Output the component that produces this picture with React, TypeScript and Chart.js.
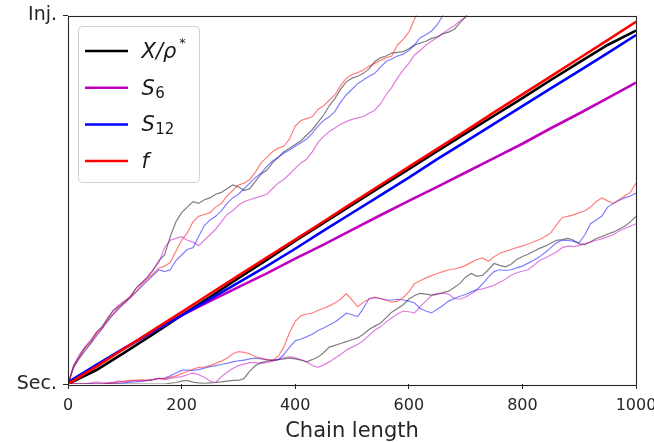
import React, { useEffect, useRef } from "react";
import { Chart, registerables } from "chart.js";

Chart.register(...registerables);

const FONT = '"DejaVu Sans", sans-serif';

const xTicks = [0, 200, 400, 600, 800, 1000];
const yTickValues = [0, 1];
const yTickLabels = ["Sec.", "Inj."];
const xTitle = "Chain length";

const legendBase = ["X/ρ", "S", "S", "f"];
const legendSub = ["", "6", "12", ""];
const legendSup = ["*", "", "", ""];

// chain-length positions (fine grid for single runs, coarse grid for averages)
const fineStep = Array.from({ length: 101 }, (_, i) => i * 10);
const coarseStep = Array.from({ length: 21 }, (_, i) => i * 50);

// averaged curves (thick)
const meanX = [0, 0.038, 0.086, 0.135, 0.186, 0.236, 0.287, 0.337, 0.388, 0.437, 0.486, 0.535, 0.583, 0.632, 0.68, 0.728, 0.776, 0.825, 0.873, 0.92, 0.959];
const meanS6 = [0.004, 0.05, 0.097, 0.143, 0.186, 0.225, 0.263, 0.3, 0.34, 0.378, 0.418, 0.458, 0.497, 0.535, 0.574, 0.613, 0.652, 0.694, 0.734, 0.776, 0.818];
const meanS12 = [0.005, 0.052, 0.098, 0.143, 0.186, 0.23, 0.275, 0.32, 0.367, 0.416, 0.464, 0.512, 0.56, 0.61, 0.658, 0.706, 0.754, 0.802, 0.85, 0.898, 0.947];
const meanF = [0, 0.047, 0.097, 0.146, 0.195, 0.245, 0.294, 0.343, 0.392, 0.441, 0.491, 0.54, 0.589, 0.638, 0.687, 0.737, 0.786, 0.835, 0.884, 0.933, 0.983];

// single run heading towards "Inj." (thin)
const upX = [0, 0.05, 0.075, 0.10, 0.115, 0.14, 0.155, 0.18, 0.20, 0.21,
  0.225, 0.235, 0.26, 0.275, 0.29, 0.31, 0.335, 0.35, 0.40, 0.44,
  0.465, 0.48, 0.495, 0.49, 0.50, 0.505, 0.515, 0.52, 0.53, 0.54,
  0.535, 0.525, 0.53, 0.55, 0.57, 0.58, 0.60, 0.615, 0.63, 0.64,
  0.65, 0.66, 0.675, 0.69, 0.71, 0.73, 0.755, 0.775, 0.80, 0.82,
  0.83, 0.835, 0.843, 0.855, 0.875, 0.885, 0.89, 0.898, 0.90, 0.902,
  0.91, 0.92, 0.925, 0.93, 0.938, 0.942, 0.95, 0.955, 0.962, 0.98,
  0.997, 1.02];
const upF = [0, 0.045, 0.07, 0.095, 0.11, 0.135, 0.15, 0.175, 0.19, 0.21,
  0.22, 0.235, 0.25, 0.27, 0.285, 0.30, 0.315, 0.32, 0.33, 0.36,
  0.39, 0.41, 0.44, 0.455, 0.46, 0.465, 0.48, 0.49, 0.51, 0.525,
  0.54, 0.545, 0.555, 0.575, 0.60, 0.615, 0.63, 0.64, 0.645, 0.665,
  0.70, 0.715, 0.72, 0.725, 0.745, 0.755, 0.77, 0.785, 0.81, 0.83,
  0.84, 0.845, 0.852, 0.862, 0.87, 0.878, 0.885, 0.89, 0.92, 0.935,
  0.955, 0.99, 1.02];
const upS12 = [0, 0.045, 0.07, 0.09, 0.11, 0.13, 0.15, 0.17, 0.19, 0.205,
  0.22, 0.235, 0.25, 0.265, 0.28, 0.295, 0.31, 0.305, 0.31, 0.335,
  0.35, 0.365, 0.37, 0.40, 0.43, 0.445, 0.455, 0.47, 0.49, 0.505,
  0.515, 0.53, 0.545, 0.56, 0.572, 0.59, 0.605, 0.615, 0.626, 0.635,
  0.645, 0.655, 0.665, 0.68, 0.70, 0.715, 0.725, 0.74, 0.765, 0.785,
  0.80, 0.815, 0.825, 0.835, 0.843, 0.86, 0.875, 0.882, 0.89, 0.895,
  0.905, 0.92, 0.94, 0.948, 0.958, 0.975, 1.0, 1.02];
const upS6 = [0, 0.05, 0.08, 0.10, 0.12, 0.14, 0.155, 0.175, 0.20, 0.215,
  0.225, 0.24, 0.26, 0.275, 0.29, 0.31, 0.33, 0.37, 0.39, 0.395,
  0.40, 0.39, 0.385, 0.375, 0.39, 0.405, 0.42, 0.44, 0.46, 0.47,
  0.485, 0.495, 0.50, 0.505, 0.51, 0.515, 0.53, 0.545, 0.555, 0.57,
  0.585, 0.60, 0.61, 0.63, 0.655, 0.672, 0.685, 0.695, 0.705, 0.712,
  0.718, 0.722, 0.726, 0.735, 0.743, 0.76, 0.785, 0.805, 0.83, 0.852,
  0.87, 0.893, 0.905, 0.92, 0.93, 0.94, 0.952, 0.962, 0.972, 0.985,
  0.995, 1.02];

// single run staying near "Sec." (thin)
const lowX = [0, 0, 0, 0, 0, 0, 0, 0, 0, 0,
  0, 0, 0, 0, 0, 0, 0, 0, 0.002, 0.004,
  0.008, 0.01, 0.005, 0.003, 0.002, 0.003, 0.004, 0.006, 0.008, 0.01,
  0.01, 0.015, 0.035, 0.05, 0.058, 0.062, 0.064, 0.066, 0.068, 0.07,
  0.068, 0.065, 0.06, 0.066, 0.073, 0.085, 0.1, 0.105, 0.11, 0.115,
  0.12, 0.125, 0.135, 0.148, 0.157, 0.165, 0.18, 0.195, 0.205, 0.215,
  0.23, 0.24, 0.246, 0.244, 0.241, 0.243, 0.248, 0.252, 0.262, 0.273,
  0.29, 0.30, 0.292, 0.295, 0.31, 0.327, 0.322, 0.318, 0.325, 0.338,
  0.346, 0.352, 0.36, 0.368, 0.374, 0.382, 0.39, 0.392, 0.395, 0.39,
  0.38, 0.378, 0.386, 0.395, 0.40, 0.407, 0.412, 0.42, 0.428, 0.44, 0.455];
const lowF = [0, 0, 0, 0, 0, 0, 0, 0.002, 0.003, 0.005,
  0.008, 0.01, 0.01, 0.012, 0.01, 0.012, 0.015, 0.014, 0.018, 0.022,
  0.028, 0.034, 0.04, 0.045, 0.046, 0.05, 0.056, 0.062, 0.07, 0.082,
  0.088, 0.086, 0.082, 0.074, 0.07, 0.066, 0.064, 0.075, 0.10, 0.14,
  0.17, 0.185, 0.19, 0.192, 0.20, 0.205, 0.212, 0.22, 0.23, 0.245,
  0.228, 0.21, 0.222, 0.23, 0.236, 0.232, 0.228, 0.222, 0.225, 0.234,
  0.25, 0.272, 0.28, 0.288, 0.294, 0.30, 0.305, 0.31, 0.312, 0.316,
  0.322, 0.33, 0.338, 0.342, 0.333, 0.345, 0.355, 0.36, 0.365, 0.37,
  0.375, 0.38, 0.386, 0.392, 0.40, 0.41, 0.432, 0.452, 0.455, 0.459,
  0.465, 0.47, 0.48, 0.495, 0.505, 0.497, 0.49, 0.50, 0.51, 0.52, 0.545];
const lowS12 = [0, 0, 0, 0, 0, 0, 0, 0.001, 0.002, 0.002,
  0.003, 0.005, 0.006, 0.008, 0.01, 0.012, 0.015, 0.016, 0.022, 0.03,
  0.037, 0.038, 0.037, 0.039, 0.043, 0.047, 0.05, 0.053, 0.056, 0.06,
  0.063, 0.065, 0.068, 0.07, 0.068, 0.066, 0.065, 0.066, 0.08, 0.10,
  0.117, 0.122, 0.128, 0.135, 0.145, 0.152, 0.16, 0.168, 0.18, 0.192,
  0.188, 0.183, 0.205, 0.232, 0.234, 0.232, 0.228, 0.228, 0.23, 0.228,
  0.225, 0.22, 0.205, 0.198, 0.193, 0.203, 0.213, 0.225, 0.232, 0.238,
  0.243, 0.25, 0.256, 0.272, 0.29, 0.305, 0.31, 0.308, 0.31, 0.315,
  0.32, 0.328, 0.336, 0.345, 0.357, 0.37, 0.383, 0.39, 0.39, 0.387,
  0.383, 0.405, 0.435, 0.445, 0.456, 0.48, 0.49, 0.498, 0.505, 0.51, 0.518];
const lowS6 = [0, 0, 0, 0, 0.003, 0.006, 0.004, 0.003, 0.005, 0.008,
  0.006, 0.008, 0.01, 0.008, 0.01, 0.012, 0.015, 0.012, 0.015, 0.018,
  0.02, 0.025, 0.03, 0.025, 0.018, 0.008, 0.004, 0.02, 0.032, 0.042,
  0.05, 0.054, 0.058, 0.058, 0.056, 0.058, 0.062, 0.066, 0.072, 0.074,
  0.071, 0.066, 0.06, 0.05, 0.045, 0.052, 0.06, 0.07, 0.08, 0.092,
  0.10, 0.107, 0.118, 0.132, 0.146, 0.155, 0.168, 0.18, 0.19, 0.198,
  0.196, 0.193, 0.21, 0.225, 0.24, 0.246, 0.246, 0.244, 0.232, 0.23,
  0.236, 0.245, 0.255, 0.258, 0.263, 0.268, 0.276, 0.284, 0.295, 0.302,
  0.306, 0.31, 0.322, 0.335, 0.342, 0.35, 0.358, 0.37, 0.374, 0.373,
  0.376, 0.381, 0.385, 0.39, 0.394, 0.40, 0.405, 0.415, 0.422, 0.428, 0.435];

const COL_X = "#000000";
const COL_S6 = "#bf00bf";
const COL_S12 = "#0000ff";
const COL_F = "#ff0000";
const THIN_X = "rgba(0,0,0,0.5)";
const THIN_S6 = "rgba(191,0,191,0.5)";
const THIN_S12 = "rgba(0,0,255,0.5)";
const THIN_F = "rgba(255,0,0,0.5)";
const legendColors = [COL_X, COL_S6, COL_S12, COL_F];

const pts = (xs: number[], ys: number[]) => ys.map((y, i) => ({ x: xs[i], y }));

const framePlugin = {
  id: "frame",
  afterDatasetsDraw(chart: any) {
    const { ctx, chartArea: a } = chart;
    ctx.save();
    ctx.strokeStyle = "#262626";
    ctx.lineWidth = 1.1;
    ctx.strokeRect(Math.round(a.left) + 0.5, Math.round(a.top) + 0.5, Math.round(a.right - a.left), Math.round(a.bottom - a.top));
    ctx.restore();
  },
};

const legendPlugin = {
  id: "mathLegend",
  afterDraw(chart: any) {
    const { ctx, chartArea: a } = chart;
    const bx = Math.round(a.left) + 10.5;
    const by = Math.round(a.top) + 10.5;
    const bw = 121;
    const bh = 156;
    const r = 4;
    ctx.save();
    ctx.beginPath();
    ctx.moveTo(bx + r, by);
    ctx.lineTo(bx + bw - r, by);
    ctx.arcTo(bx + bw, by, bx + bw, by + r, r);
    ctx.lineTo(bx + bw, by + bh - r);
    ctx.arcTo(bx + bw, by + bh, bx + bw - r, by + bh, r);
    ctx.lineTo(bx + r, by + bh);
    ctx.arcTo(bx, by + bh, bx, by + bh - r, r);
    ctx.lineTo(bx, by + r);
    ctx.arcTo(bx, by, bx + r, by, r);
    ctx.closePath();
    ctx.fillStyle = "rgba(255,255,255,0.8)";
    ctx.fill();
    ctx.strokeStyle = "#d0d0d0";
    ctx.lineWidth = 1;
    ctx.stroke();

    for (let i = 0; i < legendBase.length; i++) {
      const y = by + 24.5 + i * 36.7;
      ctx.strokeStyle = legendColors[i];
      ctx.lineWidth = 2.5;
      ctx.beginPath();
      ctx.moveTo(bx + 6.5, y);
      ctx.lineTo(bx + 49.5, y);
      ctx.stroke();

      const tx = bx + 63;
      const base = y + 7;
      ctx.fillStyle = "#1a1a1a";
      ctx.textBaseline = "alphabetic";
      ctx.textAlign = "left";
      ctx.font = `italic 21px ${FONT}`;
      ctx.fillText(legendBase[i], tx, base);
      const w = ctx.measureText(legendBase[i]).width;
      if (legendSub[i]) {
        ctx.font = `15px ${FONT}`;
        ctx.fillText(legendSub[i], tx + w + 0.5, base + 3);
      }
      if (legendSup[i]) {
        ctx.font = `13px ${FONT}`;
        ctx.fillText(legendSup[i], tx + w + 3, base - 11);
      }
    }
    ctx.restore();
  },
};

export default function App() {
  const ref = useRef<HTMLCanvasElement | null>(null);

  useEffect(() => {
    document.body.style.margin = "0";
    const canvas = ref.current;
    if (!canvas) return;

    const thin = (data: any[], color: string, order: number) => ({
      data,
      borderColor: color,
      borderWidth: 1.2,
      pointRadius: 0,
      fill: false,
      order,
    });
    const thick = (data: any[], color: string, order: number) => ({
      data,
      borderColor: color,
      borderWidth: 2.6,
      pointRadius: 0,
      fill: false,
      order,
    });

    const chart = new Chart(canvas, {
      type: "line",
      data: {
        datasets: [
          thick(pts(coarseStep, meanF), COL_F, 0),
          thick(pts(coarseStep, meanS12), COL_S12, 1),
          thick(pts(coarseStep, meanS6), COL_S6, 2),
          thick(pts(coarseStep, meanX), COL_X, 3),
          thin(pts(fineStep, upF), THIN_F, 4),
          thin(pts(fineStep, upS12), THIN_S12, 5),
          thin(pts(fineStep, upS6), THIN_S6, 6),
          thin(pts(fineStep, upX), THIN_X, 7),
          thin(pts(fineStep, lowF), THIN_F, 8),
          thin(pts(fineStep, lowS12), THIN_S12, 9),
          thin(pts(fineStep, lowS6), THIN_S6, 10),
          thin(pts(fineStep, lowX), THIN_X, 11),
        ] as any,
      },
      options: {
        responsive: false,
        animation: false,
        parsing: false as any,
        layout: { padding: { top: 15.5, right: 18, left: 0, bottom: 0 } },
        plugins: {
          legend: { display: false },
          tooltip: { enabled: false },
        },
        elements: { line: { tension: 0 }, point: { radius: 0 } },
        scales: {
          x: {
            type: "linear",
            min: 0,
            max: 1000,
            afterBuildTicks: (s: any) => {
              s.ticks = xTicks.map((v) => ({ value: v }));
            },
            ticks: {
              callback: (v: any) => String(v),
              font: { family: FONT, size: 16 },
              color: "#262626",
              padding: 7,
              maxRotation: 0,
              autoSkip: false,
            },
            grid: {
              display: true,
              drawOnChartArea: false,
              drawTicks: true,
              tickLength: 5,
              color: "#262626",
              lineWidth: 1,
            },
            border: { display: false },
            title: {
              display: true,
              text: xTitle,
              font: { family: FONT, size: 21, lineHeight: 1.0 },
              color: "#262626",
              padding: { top: 0, bottom: 0 },
            },
            afterFit: (s: any) => {
              s.height = 58;
              s.paddingLeft = 0;
              s.paddingRight = 0;
            },
          },
          y: {
            type: "linear",
            min: 0,
            max: 1,
            afterBuildTicks: (s: any) => {
              s.ticks = yTickValues.map((v) => ({ value: v }));
            },
            ticks: {
              callback: (_v: any, i: number) => yTickLabels[i],
              font: { family: FONT, size: 19 },
              color: "#262626",
              padding: 6,
            },
            grid: {
              display: true,
              drawOnChartArea: false,
              drawTicks: true,
              tickLength: 5,
              color: "#262626",
              lineWidth: 1,
            },
            border: { display: false },
            afterFit: (s: any) => {
              s.width = 68;
              s.paddingTop = 0;
              s.paddingBottom = 0;
            },
          },
        },
      },
      plugins: [framePlugin, legendPlugin],
    });

    return () => chart.destroy();
  }, []);

  return (
    <canvas
      ref={ref}
      width={654}
      height={442}
      style={{ display: "block", width: 654, height: 442 }}
    />
  );
}
